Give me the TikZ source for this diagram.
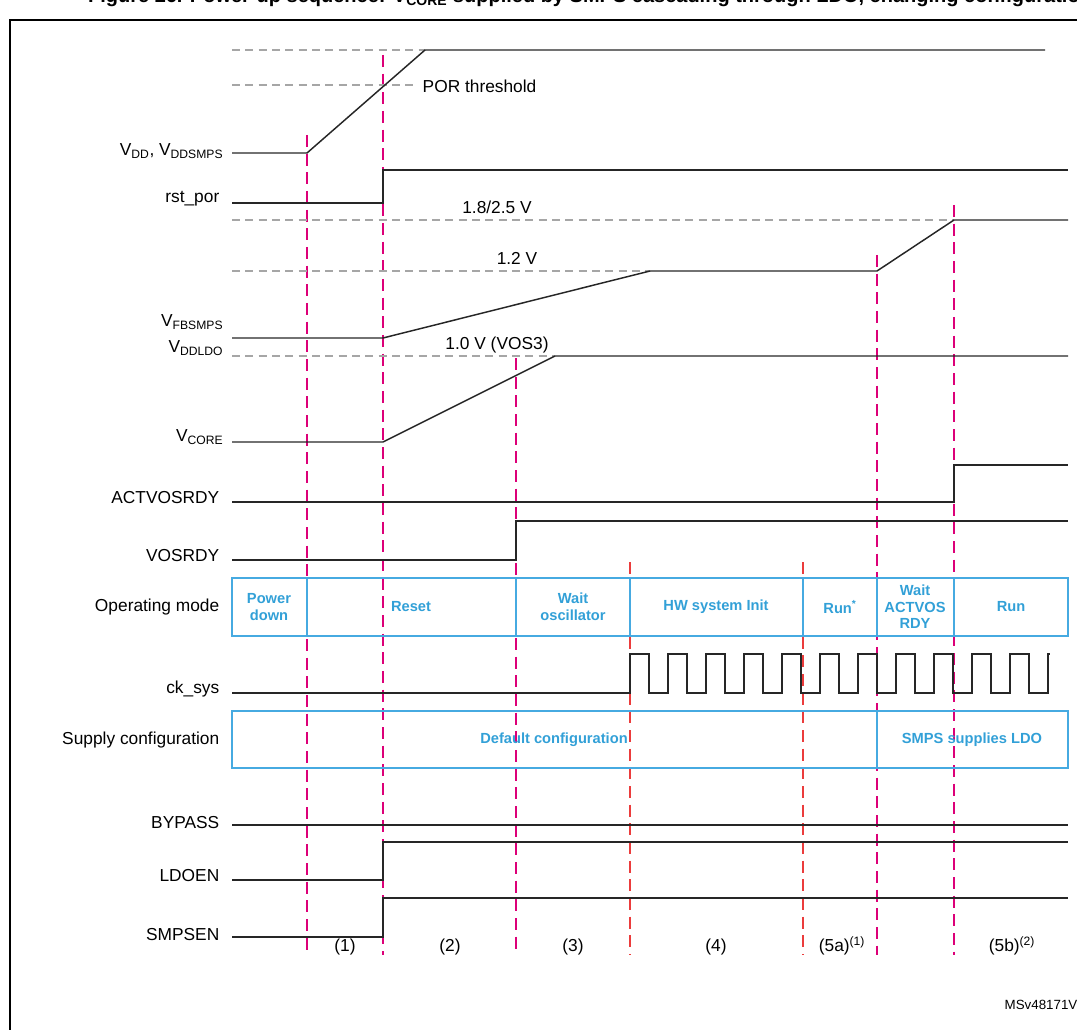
\documentclass[tikz,border=0pt]{standalone}
\usepackage{fontspec}
\setmainfont{Liberation Sans}
\begin{document}
\begin{tikzpicture}[x=0.75pt,y=-0.75pt,
  sig/.style={line width=1.1pt,black!85},
  gd/.style={gray!70,dashed,dash pattern=on 6pt off 4pt,line width=0.8pt},
  mg/.style={color={rgb,255:red,220;green,0;blue,120},dashed,dash pattern=on 9pt off 5pt,line width=1pt},
  rd/.style={color={rgb,255:red,235;green,60;blue,60},dashed,dash pattern=on 9pt off 5pt,line width=0.9pt},
  bx/.style={draw={rgb,255:red,70;green,170;blue,225},line width=1pt},
  bt/.style={text={rgb,255:red,50;green,160;blue,215},font=\bfseries\fontsize{11}{12.5}\selectfont,align=center},
  lb/.style={anchor=east,font=\fontsize{13}{14}\selectfont},
  tx/.style={font=\fontsize{13}{14}\selectfont}]
\useasboundingbox (0,0) rectangle (1077,1030);
\begin{scope}
\clip (0,0) rectangle (1077,1030);
\node[font=\bfseries\fontsize{15}{16}\selectfont,anchor=center] (title) at (590,-3) {Figure 26. Power-up sequence: V\textsubscript{CORE} supplied by SMPS cascading through LDO, changing configuration};
\draw[line width=1.2pt] (10,1040) -- (10,20) -- (1090,20);
\end{scope}
% vertical markers
\draw[mg] (307,135) -- (307,955);
\draw[mg] (383,55) -- (383,955);
\draw[mg] (516,358) -- (516,955);
\draw[mg] (877,255) -- (877,955);
\draw[mg] (954,205) -- (954,955);
\draw[rd] (630,562) -- (630,955);
\draw[rd] (803,562) -- (803,955);
% gray references
\draw[gd] (232,50) -- (425,50);
\draw[gd] (232,85) -- (415,85);
\node[tx,anchor=west] (por) at (418,86) {POR threshold};
\draw[gd] (232,220) -- (954,220);
\node[tx] (v18) at (497,207) {1.8/2.5 V};
\draw[gd] (232,271) -- (650,271);
\node[tx] (v12) at (517,258) {1.2 V};
\draw[gd] (232,356) -- (555,356);
\node[tx] (v10) at (497,345) {1.0 V (VOS3)};
% signals
\node[lb] (lvdd) at (228,151) {V\textsubscript{DD}, V\textsubscript{DDSMPS}};
\draw[sig] (232,153) -- (307,153) -- (425,50) -- (1045,50);
\node[lb] (lrst) at (224,199) {rst\_por};
\draw[sig] (232,203) -- (383,203) -- (383,170) -- (1068,170);
\node[lb] (lfb) at (228,322) {V\textsubscript{FBSMPS}};
\node[lb] (lldo) at (228,348) {V\textsubscript{DDLDO}};
\draw[sig] (232,338) -- (383,338) -- (650,271) -- (877,271) -- (954,220) -- (1068,220);
\node[lb] (lcore) at (228,437) {V\textsubscript{CORE}};
\draw[sig] (232,442) -- (383,442) -- (555,356) -- (1068,356);
\node[lb] (lact) at (224,498) {ACTVOSRDY};
\draw[sig] (232,502) -- (954,502) -- (954,465) -- (1068,465);
\node[lb] (lvos) at (224,556) {VOSRDY};
\draw[sig] (232,560) -- (516,560) -- (516,521) -- (1068,521);
% operating mode
\node[lb] (lop) at (224,607) {Operating mode};
\draw[bx] (232,578) rectangle (1068,636);
\foreach \x in {307,516,630,803,877,954} \draw[bx] (\x,578) -- (\x,636);
\node[bt] (m1) at (269,607) {Power\\down};
\node[bt] (m2) at (411,607) {Reset};
\node[bt] (m3) at (573,607) {Wait\\oscillator};
\node[bt] (m4) at (716,607) {HW system Init};
\node[bt] (m5) at (840,607) {Run\textsuperscript{*}};
\node[bt] (m6) at (915,607) {Wait\\ACTVOS\\RDY};
\node[bt] (m7) at (1011,607) {Run};
% ck_sys
\node[lb] (lck) at (224,689) {ck\_sys};
\draw[sig] (232,693) -- (630,693)
  \foreach \i in {0,...,10} { -- ++(0,-39) -- ++(19,0) -- ++(0,39) -- ++(19,0) } -- ++(0,-39) -- ++(2,0);
% supply config
\node[lb] (lsup) at (224,740) {Supply configuration};
\draw[bx] (232,711) rectangle (1068,768);
\draw[bx] (877,711) -- (877,768);
\node[bt] (s1) at (554,740) {Default configuration};
\node[bt] (s2) at (972,740) {SMPS supplies LDO};
% bottom signals
\node[lb] (lby) at (224,823) {BYPASS};
\draw[sig] (232,825) -- (1068,825);
\node[lb] (lld) at (224,876) {LDOEN};
\draw[sig] (232,880) -- (383,880) -- (383,842) -- (1068,842);
\node[lb] (lsm) at (224,935) {SMPSEN};
\draw[sig] (232,937) -- (383,937) -- (383,898) -- (1068,898);
% phases
\node[tx] (p1) at (345,947) {(1)};
\node[tx] (p2) at (450,947) {(2)};
\node[tx] (p3) at (573,947) {(3)};
\node[tx] (p4) at (716,947) {(4)};
\node[tx] (p5) at (842,946) {(5a)\textsuperscript{(1)}};
\node[tx] (p6) at (1012,946) {(5b)\textsuperscript{(2)}};
\begin{scope}
\clip (0,0) rectangle (1077,1030);
\node[anchor=west,font=\fontsize{10}{12}\selectfont] (ms) at (1000,1005) {MSv48171V1};
\end{scope}
\end{tikzpicture}
\end{document}
